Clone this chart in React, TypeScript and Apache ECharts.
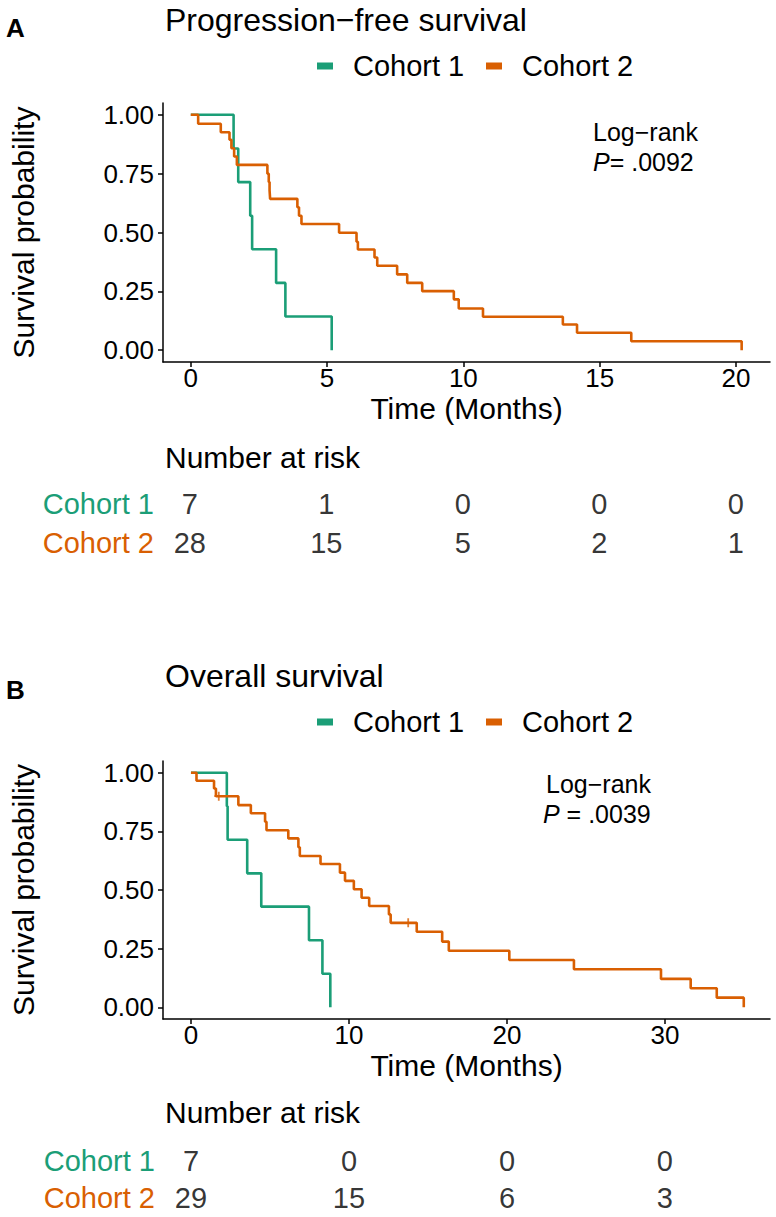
import React, { useEffect, useRef } from "react";
import * as echarts from "echarts";

const GREEN = "#1B9E77";
const ORANGE = "#D95F02";
const FONT = "'Liberation Sans', Arial, sans-serif";

// Panel A: progression-free survival (time in months, survival probability)
const pfsTime1 = [0, 1.57, 1.74, 2.18, 2.25, 3.13, 3.47, 5.17];
const pfsSurv1 = [1, 0.857, 0.714, 0.571, 0.429, 0.286, 0.143, 0];
const pfsTime2 = [0, 0.27, 1.1, 1.42, 1.49, 1.59, 1.69, 2.81, 2.86, 2.89, 2.91, 3.91, 3.97, 4.06, 5.44, 6.08, 6.13, 6.74, 6.84, 7.57, 7.94, 8.49, 9.65, 9.83, 10.72, 13.65, 14.17, 16.16, 20.21];
const pfsSurv2 = [1, 0.962, 0.926, 0.894, 0.858, 0.823, 0.787, 0.75, 0.714, 0.679, 0.643, 0.607, 0.571, 0.536, 0.499, 0.461, 0.428, 0.394, 0.359, 0.322, 0.286, 0.251, 0.216, 0.177, 0.142, 0.109, 0.074, 0.038, 0];

// Panel B: overall survival
const osTime1 = [0, 2.27, 2.32, 3.56, 4.45, 7.47, 8.32, 8.82];
const osSurv1 = [1, 0.857, 0.714, 0.571, 0.429, 0.286, 0.143, 0];
const osTime2 = [0, 0.35, 1.46, 1.58, 3.0, 3.79, 4.69, 4.78, 6.16, 6.8, 6.89, 8.2, 9.43, 9.75, 10.31, 10.8, 11.28, 12.53, 12.64, 14.29, 15.9, 16.32, 20.15, 24.24, 29.75, 31.63, 33.28, 34.99];
const osSurv2 = [1, 0.966, 0.933, 0.9, 0.862, 0.827, 0.791, 0.755, 0.72, 0.682, 0.645, 0.611, 0.574, 0.539, 0.503, 0.467, 0.432, 0.396, 0.36, 0.322, 0.28, 0.241, 0.2015, 0.162, 0.121, 0.081, 0.041, 0];
const osCensorTime2 = [1.76, 13.75];
const osCensorSurv2 = [0.9, 0.36];

// Number at risk
const riskTimesA = [0, 5, 10, 15, 20];
const riskA1 = [7, 1, 0, 0, 0];
const riskA2 = [28, 15, 5, 2, 1];
const riskTimesB = [0, 10, 20, 30];
const riskB1 = [7, 0, 0, 0];
const riskB2 = [29, 15, 6, 3];

const cohorts = ["Cohort 1", "Cohort 2"];
const yTicks = [0, 0.25, 0.5, 0.75, 1];
const xTicksA = [0, 5, 10, 15, 20];
const xTicksB = [0, 10, 20, 30];

const zip = (a: number[], b: number[]) => a.map((v, i) => [v, b[i]]);

function plotXAxis(grid: number, min: number, max: number, ticks: number[]) {
  return {
    type: "value", gridIndex: grid, min, max,
    name: "Time (Months)", nameLocation: "middle", nameGap: 34, nameMoveOverlap: false,
    nameTextStyle: { fontSize: 30, lineHeight: 24, color: "#000", fontFamily: FONT },
    axisLine: { show: true, onZero: false, lineStyle: { color: "#000", width: 1.5 } },
    axisTick: { show: true, customValues: ticks, length: 5, lineStyle: { color: "#000", width: 1.5 } },
    axisLabel: { customValues: ticks, fontSize: 26, lineHeight: 22, color: "#000", fontFamily: FONT, margin: 5 },
    splitLine: { show: false },
  };
}
function plotYAxis(grid: number) {
  return {
    type: "value", gridIndex: grid, min: -0.05, max: 1.05,
    name: "Survival probability", nameLocation: "middle", nameGap: 125, nameMoveOverlap: false,
    nameTextStyle: { fontSize: 30, color: "#000", fontFamily: FONT },
    axisLine: { show: true, onZero: false, lineStyle: { color: "#000", width: 1.5 } },
    axisTick: { show: true, customValues: yTicks, length: 5, lineStyle: { color: "#000", width: 1.5 } },
    axisLabel: { customValues: yTicks, fontSize: 26, color: "#000", fontFamily: FONT, margin: 9, formatter: (v: number) => v.toFixed(2) },
    splitLine: { show: false },
  };
}
function riskXAxis(grid: number, min: number, max: number) {
  return { type: "value", gridIndex: grid, min, max, show: false };
}
function riskYAxis(grid: number) {
  return {
    type: "category", gridIndex: grid, data: cohorts, inverse: true,
    axisLine: { show: false }, axisTick: { show: false },
    axisLabel: {
      interval: 0, margin: 8, fontFamily: FONT, hideOverlap: false,
      formatter: (v: string) => (v === "Cohort 1" ? "{g|" + v + "}" : "{o|" + v + "}"),
      rich: { g: { color: GREEN, fontSize: 29, fontFamily: FONT }, o: { color: ORANGE, fontSize: 29, fontFamily: FONT } },
    },
  };
}
function kmLine(name: string, color: string, xi: number, yi: number, data: number[][]) {
  return {
    type: "line", name, xAxisIndex: xi, yAxisIndex: yi, step: "end", data,
    symbol: "none", lineStyle: { color, width: 2.6 }, itemStyle: { color },
  };
}
function riskSeries(xi: number, yi: number, times: number[], vals: number[], row: number) {
  return {
    type: "scatter", xAxisIndex: xi, yAxisIndex: yi, symbolSize: 1,
    itemStyle: { color: "transparent" },
    data: times.map((t, i) => [t, row, vals[i]]),
    label: { show: true, position: "inside", formatter: (p: any) => String(p.value[2]), fontSize: 29, color: "#000", fontFamily: FONT },
  };
}
function legendGraphic(y: number) {
  return [
    { type: "rect", shape: { x: 317, y: y - 3.5, width: 16, height: 7 }, style: { fill: GREEN } },
    { type: "text", x: 353, y, style: { text: "Cohort 1", fontSize: 29, fontFamily: FONT, fill: "#000", textVerticalAlign: "middle" } },
    { type: "rect", shape: { x: 486, y: y - 3.5, width: 16, height: 7 }, style: { fill: ORANGE } },
    { type: "text", x: 522, y, style: { text: "Cohort 2", fontSize: 29, fontFamily: FONT, fill: "#000", textVerticalAlign: "middle" } },
  ];
}
function txt(text: string, x: number, y: number, fontSize: number, extra: any = {}) {
  return { type: "text", x, y, style: { text, fontSize, fontFamily: FONT, fill: "#000", textVerticalAlign: "middle", ...extra } };
}
function pText(x: number, y: number, rest: string) {
  return {
    type: "text", x, y,
    style: {
      text: "{i|P}{n|" + rest + "}", textVerticalAlign: "middle",
      rich: {
        i: { fontStyle: "italic", fontSize: 25, lineHeight: 24, fontFamily: FONT, fill: "#000" },
        n: { fontSize: 25, lineHeight: 24, fontFamily: FONT, fill: "#000" },
      },
    },
  };
}

export default function App() {
  const ref = useRef<HTMLDivElement>(null);
  useEffect(() => {
    if (!ref.current) return;
    const chart = echarts.init(ref.current, undefined, { renderer: "svg" });
    const aMin = -1.02, aMax = 21.25, bMin = -1.77, bMax = 36.65;
    chart.setOption({
      animation: false,
      backgroundColor: "#fff",
      textStyle: { fontFamily: FONT },
      grid: [
        { left: 162, top: 103, width: 608, height: 259 },
        { left: 162, top: 484, width: 608, height: 78 },
        { left: 163, top: 761, width: 607, height: 258 },
        { left: 163, top: 1142, width: 607, height: 80 },
      ],
      xAxis: [plotXAxis(0, aMin, aMax, xTicksA), riskXAxis(1, aMin, aMax), plotXAxis(2, bMin, bMax, xTicksB), riskXAxis(3, bMin, bMax)],
      yAxis: [plotYAxis(0), riskYAxis(1), plotYAxis(2), riskYAxis(3)],
      series: [
        kmLine("Cohort 1", GREEN, 0, 0, zip(pfsTime1, pfsSurv1)),
        kmLine("Cohort 2", ORANGE, 0, 0, zip(pfsTime2, pfsSurv2)),
        kmLine("Cohort 1", GREEN, 2, 2, zip(osTime1, osSurv1)),
        kmLine("Cohort 2", ORANGE, 2, 2, zip(osTime2, osSurv2)),
        {
          type: "scatter", xAxisIndex: 2, yAxisIndex: 2, data: zip(osCensorTime2, osCensorSurv2),
          symbol: "path://M4,0H6V4H10V6H6V10H4V6H0V4H4Z", symbolSize: 9, itemStyle: { color: ORANGE },
        },
        riskSeries(1, 1, riskTimesA, riskA1, 0),
        riskSeries(1, 1, riskTimesA, riskA2, 1),
        riskSeries(3, 3, riskTimesB, riskB1, 0),
        riskSeries(3, 3, riskTimesB, riskB2, 1),
      ],
      graphic: [
        txt("A", 6, 28, 26, { fontWeight: "bold" }),
        txt("Progression\u2212free survival", 165, 20, 32),
        ...legendGraphic(66),
        txt("Log\u2212rank", 593, 132, 25, { lineHeight: 24 }),
        pText(593, 162, "= .0092"),
        txt("Number at risk", 165, 457, 30),
        txt("B", 6, 690, 26, { fontWeight: "bold" }),
        txt("Overall survival", 165, 676, 32),
        ...legendGraphic(722),
        txt("Log\u2212rank", 546, 784, 25, { lineHeight: 24 }),
        pText(543, 814, " = .0039"),
        txt("Number at risk", 165, 1112, 30),
      ],
    });
    return () => chart.dispose();
  }, []);
  return <div ref={ref} style={{ position: "absolute", left: 0, top: 0, width: 776, height: 1217 }} />;
}
